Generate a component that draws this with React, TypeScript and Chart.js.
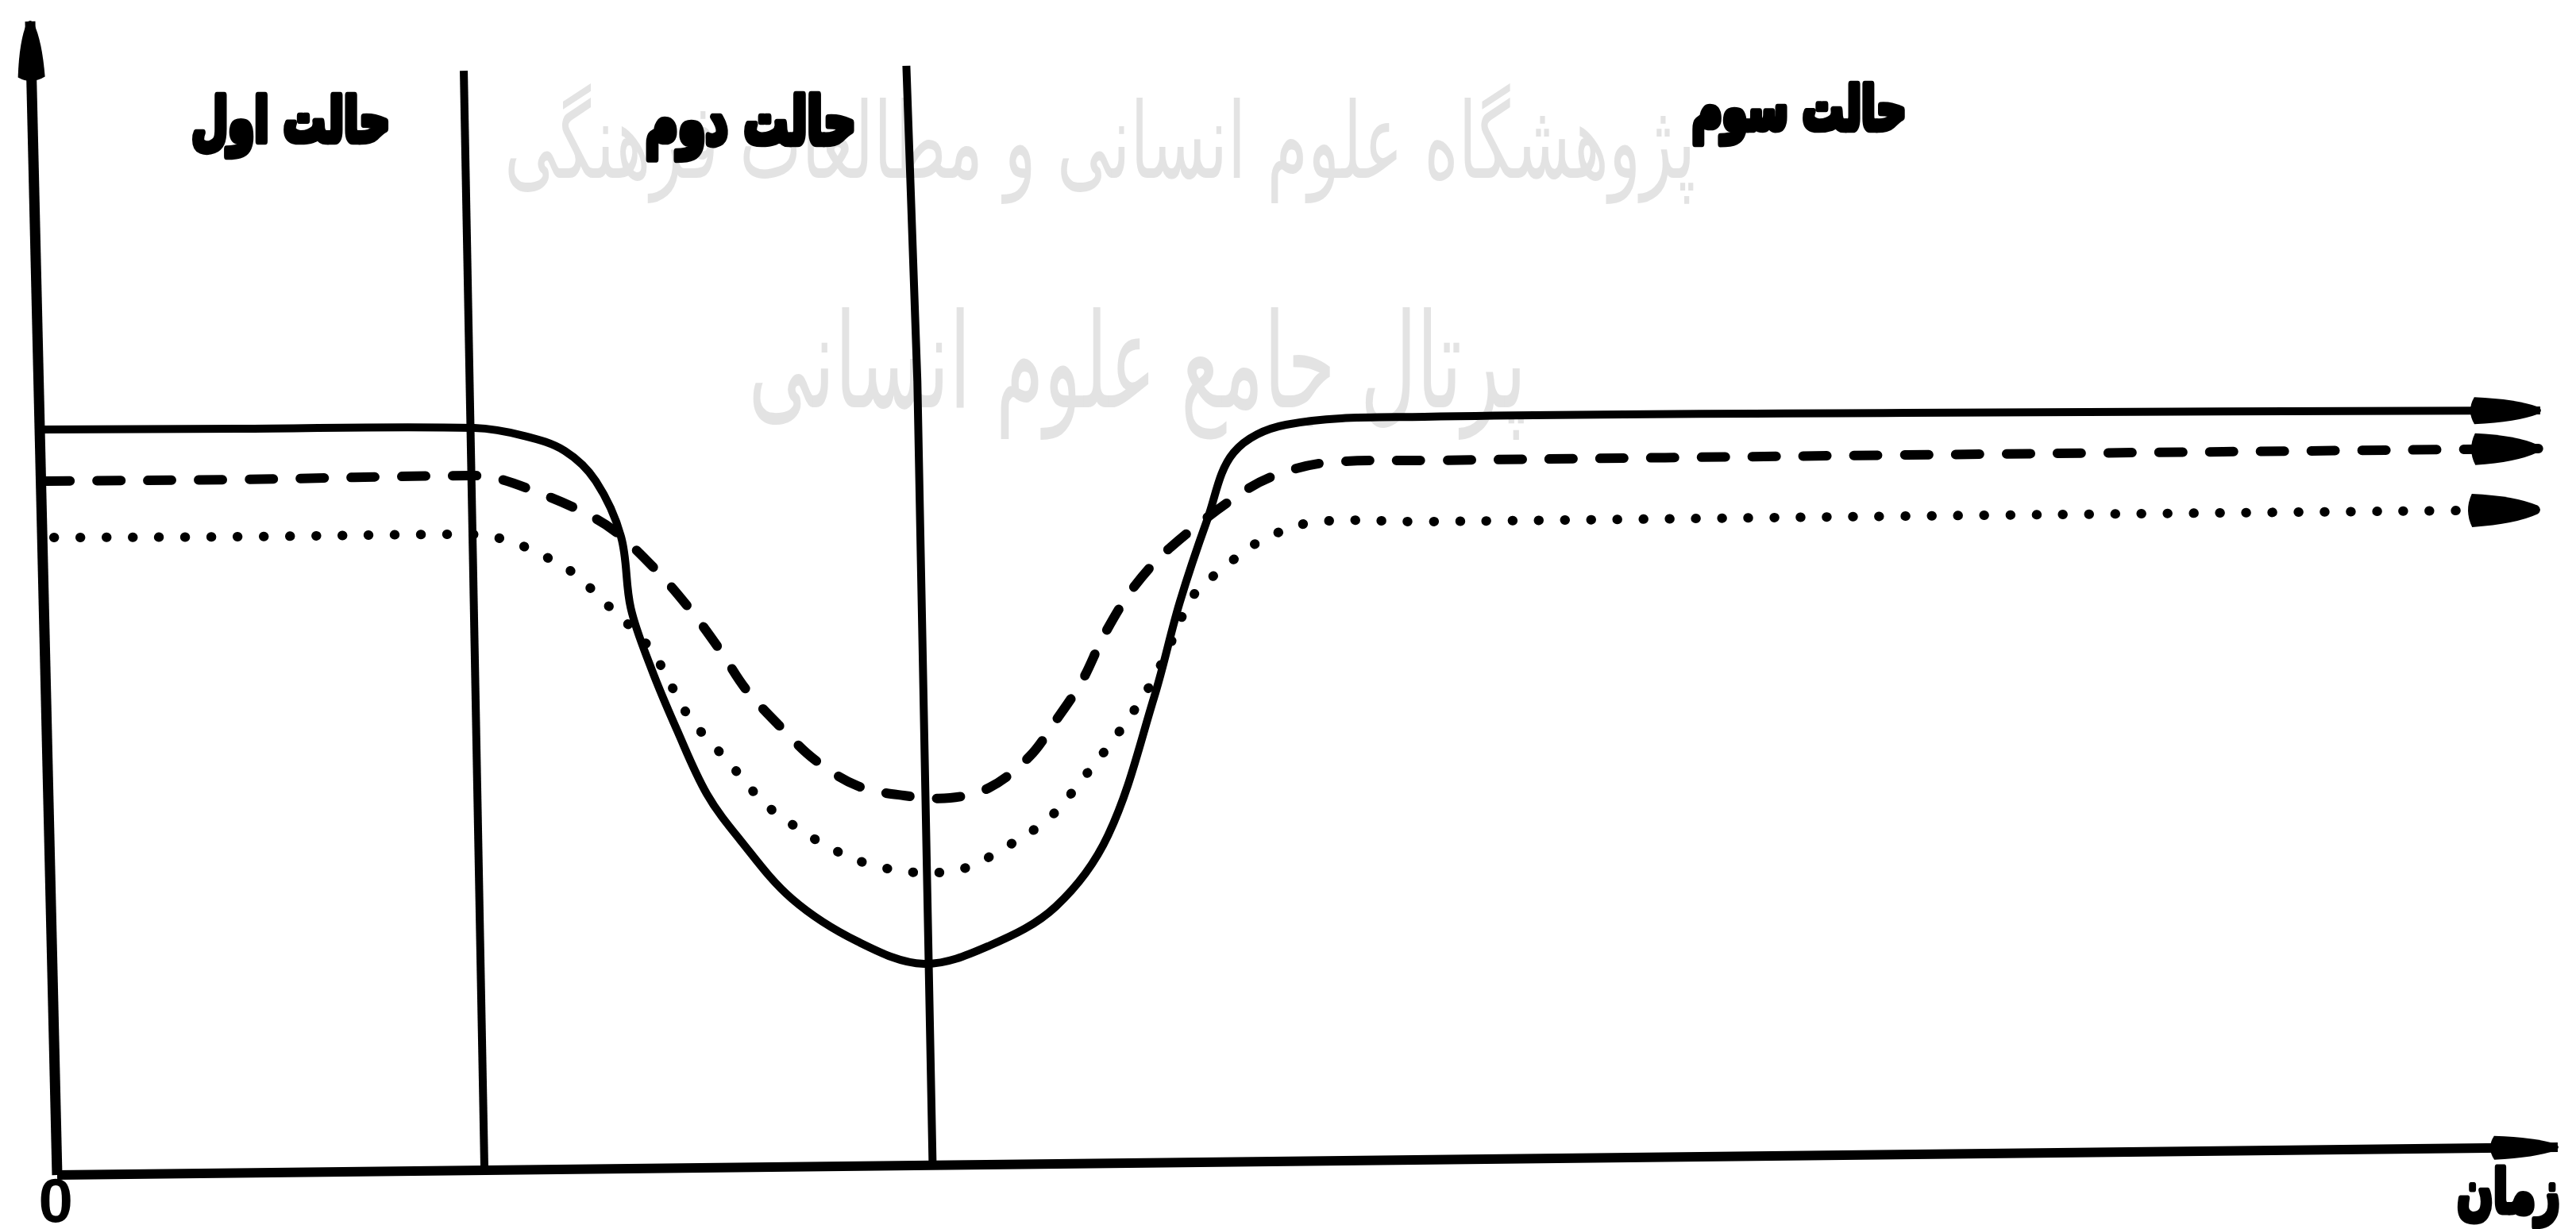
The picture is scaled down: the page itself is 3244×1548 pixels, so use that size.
import { useEffect, useRef } from 'react';
import { Chart, registerables } from 'chart.js';

Chart.register(...registerables);

// ---------- data (time t, level v) ----------
const solidCurve: number[][] = [
  [-0.64, 64.62], [7.24, 64.69], [16.68, 64.76], [18.68, 64.07], [20.3, 62.77], [21.54, 60.15],
  [22.55, 55.33], [22.94, 49.14], [23.76, 43.91], [24.78, 38.61], [25.98, 33.04], [27.29, 29.11],
  [29.38, 23.95], [32.02, 20.23], [34.66, 18.31], [37.29, 19.89], [39.93, 23.26], [42.03, 29.46],
  [43.87, 41.43], [44.89, 49.62], [46.0, 56.85], [47.05, 62.63], [49.14, 65.04], [54.67, 65.73],
  [73.95, 66.07], [99.3, 66.28],
];
const dashedCurve: number[][] = [
  [-0.44, 60.15], [7.24, 60.29], [16.49, 60.63], [17.53, 60.43], [19.12, 59.26], [20.97, 57.54],
  [22.3, 55.82], [23.98, 52.37], [25.32, 49.0], [26.49, 45.56], [27.54, 42.12], [29.0, 38.68],
  [30.3, 35.99], [32.02, 33.72], [33.86, 32.9], [35.71, 32.69], [37.29, 33.59], [38.88, 36.27],
  [39.93, 39.37], [40.98, 42.81], [41.9, 46.94], [43.07, 51.0], [44.54, 54.44], [47.55, 59.39],
  [49.14, 60.98], [50.98, 61.8], [54.67, 61.94], [73.95, 62.42], [99.24, 62.97],
];
const dottedCurve: number[][] = [
  [-0.13, 55.26], [7.24, 55.33], [16.49, 55.54], [17.41, 55.33], [18.33, 54.78], [19.38, 53.75],
  [20.3, 52.72], [21.09, 51.34], [22.14, 49.14], [23.35, 46.59], [24.14, 44.18], [25.06, 40.4],
  [25.92, 37.99], [26.78, 35.99], [27.7, 33.59], [28.46, 31.86], [30.05, 29.46], [30.97, 28.29],
  [32.43, 26.98], [34.4, 26.22], [36.25, 26.57], [37.83, 28.29], [39.68, 30.97], [41.11, 34.62],
  [42.44, 38.33], [43.71, 42.46], [44.28, 44.87], [45.46, 50.31], [46.63, 52.58], [47.97, 54.78],
  [50.19, 56.57], [54.67, 56.64], [73.95, 57.12], [99.27, 57.67],
];
const xAxisLine: number[][] = [[0, 0], [100, 2.41]];
const yAxisLine: number[][] = [[0, 0], [-1.08, 100]];
const boundary1: number[][] = [[17.09, 0.21], [16.26, 95.73]];
const boundary2: number[][] = [[35.01, 0.89], [34.4, 68.82], [33.96, 96.15]];

const phaseLabels = ['حالت اول', 'حالت دوم', 'حالت سوم'];
const axisTitle = 'زمان';
const originLabel = '0';
const watermarkLines = ['پژوهشگاه علوم انسانی و مطالعات فرهنگی', 'پرتال جامع علوم انسانی'];

const W = 3244;
const H = 1548;

const toPts = (arr: number[][]) => arr.map(([x, y]) => ({ x, y }));

function fitText(
  ctx: CanvasRenderingContext2D, text: string, cx: number, cy: number, width: number,
  font: string, weight: string, stretchY: number, stroke: number,
) {
  ctx.save();
  ctx.font = `${weight} 100px ${font}`;
  const w = ctx.measureText(text).width;
  const size = (100 * width) / w;
  ctx.font = `${weight} ${size}px ${font}`;
  ctx.direction = 'rtl';
  ctx.textAlign = 'center';
  ctx.textBaseline = 'middle';
  ctx.translate(cx, cy);
  ctx.scale(1, stretchY);
  ctx.fillText(text, 0, 0);
  if (stroke > 0) {
    ctx.lineWidth = stroke;
    ctx.lineJoin = 'round';
    ctx.strokeStyle = ctx.fillStyle;
    ctx.strokeText(text, 0, 0);
  }
  ctx.restore();
}

const arrowPlugin = {
  id: 'arrowHeads',
  afterDatasetsDraw(chart: any) {
    const ctx: CanvasRenderingContext2D = chart.ctx;
    chart.data.datasets.forEach((ds: any, i: number) => {
      const a = ds.arrow;
      if (!a) return;
      const pts = chart.getDatasetMeta(i).data;
      const p1 = pts[pts.length - 1];
      const p0 = pts[pts.length - 2];
      const ang = Math.atan2(p1.y - p0.y, p1.x - p0.x);
      ctx.save();
      ctx.translate(p1.x, p1.y);
      ctx.rotate(ang);
      ctx.fillStyle = '#000';
      const L = a.len;
      const h = a.half;
      ctx.beginPath();
      ctx.moveTo(-L, -h);
      ctx.quadraticCurveTo(-L * 0.35, -h * 0.85, -2, -h * 0.25);
      ctx.quadraticCurveTo(4, 0, -2, h * 0.25);
      ctx.quadraticCurveTo(-L * 0.35, h * 0.85, -L, h);
      ctx.quadraticCurveTo(-L - 10, 0, -L, -h);
      ctx.closePath();
      ctx.fill();
      ctx.restore();
    });
  },
};

const textPlugin = {
  id: 'texts',
  beforeDatasetsDraw(chart: any) {
    const ctx: CanvasRenderingContext2D = chart.ctx;
    const xs = chart.scales.x;
    const ys = chart.scales.y;
    ctx.save();
    ctx.fillStyle = '#e3e3e3';
    fitText(ctx, watermarkLines[0], xs.getPixelForValue(41.7), ys.getPixelForValue(88.8), 1500, '"DejaVu Sans"', 'normal', 1.6, 0);
    fitText(ctx, watermarkLines[1], xs.getPixelForValue(43.2), ys.getPixelForValue(69.5), 980, '"DejaVu Sans"', 'normal', 1.7, 0);
    ctx.restore();
  },
  afterDraw(chart: any) {
    const ctx: CanvasRenderingContext2D = chart.ctx;
    const xs = chart.scales.x;
    const ys = chart.scales.y;
    ctx.save();
    ctx.fillStyle = '#000';
    fitText(ctx, phaseLabels[0], xs.getPixelForValue(9.34), ys.getPixelForValue(90.98), 250, '"DejaVu Sans"', 'bold', 1.45, 6);
    fitText(ctx, phaseLabels[1], xs.getPixelForValue(27.73), ys.getPixelForValue(90.85), 265, '"DejaVu Sans"', 'bold', 1.45, 6);
    fitText(ctx, phaseLabels[2], xs.getPixelForValue(69.66), ys.getPixelForValue(91.95), 270, '"DejaVu Sans"', 'bold', 1.45, 6);
    fitText(ctx, axisTitle, xs.getPixelForValue(98.03), ys.getPixelForValue(-1.9), 130, '"DejaVu Sans"', 'bold', 1.4, 5);
    ctx.font = 'bold 78px "Liberation Sans"';
    ctx.direction = 'ltr';
    ctx.textAlign = 'center';
    ctx.textBaseline = 'middle';
    ctx.fillText(originLabel, xs.getPixelForValue(-0.06), ys.getPixelForValue(-2.55));
    ctx.restore();
  },
};

export default function App() {
  const ref = useRef<HTMLCanvasElement>(null);
  useEffect(() => {
    const canvas = ref.current!;
    const common = { pointRadius: 0, fill: false, clip: false as any, borderColor: '#000' };
    const chart = new Chart(canvas, {
      type: 'line',
      data: {
        datasets: [
          { ...common, data: toPts(xAxisLine), borderWidth: 12, tension: 0, arrow: { len: 80, half: 15 } } as any,
          { ...common, data: toPts(yAxisLine), borderWidth: 13, tension: 0, arrow: { len: 70, half: 17 } } as any,
          { ...common, data: toPts(boundary1), borderWidth: 10, tension: 0 } as any,
          { ...common, data: toPts(boundary2), borderWidth: 10, tension: 0 } as any,
          { ...common, data: toPts(solidCurve), borderWidth: 10, tension: 0.35, arrow: { len: 83, half: 17 } } as any,
          { ...common, data: toPts(dashedCurve), borderWidth: 12, borderDash: [30, 34], borderCapStyle: 'round', tension: 0.35, arrow: { len: 80, half: 20 } } as any,
          { ...common, data: toPts(dottedCurve), borderWidth: 12, borderDash: [0.5, 32.5], borderCapStyle: 'round', tension: 0.35, arrow: { len: 85, half: 21 } } as any,
        ],
      },
      options: {
        animation: false,
        responsive: false,
        devicePixelRatio: 1,
        layout: { padding: { left: 72, right: 23, top: 27, bottom: 68 } },
        scales: {
          x: { type: 'linear', min: 0, max: 100, display: false },
          y: { type: 'linear', min: 0, max: 100, display: false },
        },
        plugins: { legend: { display: false }, tooltip: { enabled: false } },
        elements: { point: { radius: 0 } },
      },
      plugins: [textPlugin, arrowPlugin],
    });
    return () => chart.destroy();
  }, []);
  return (
    <div style={{ position: 'fixed', left: 0, top: 0, width: W, height: H, background: '#fff' }}>
      <canvas ref={ref} width={W} height={H} style={{ width: W, height: H, display: 'block' }} />
    </div>
  );
}
